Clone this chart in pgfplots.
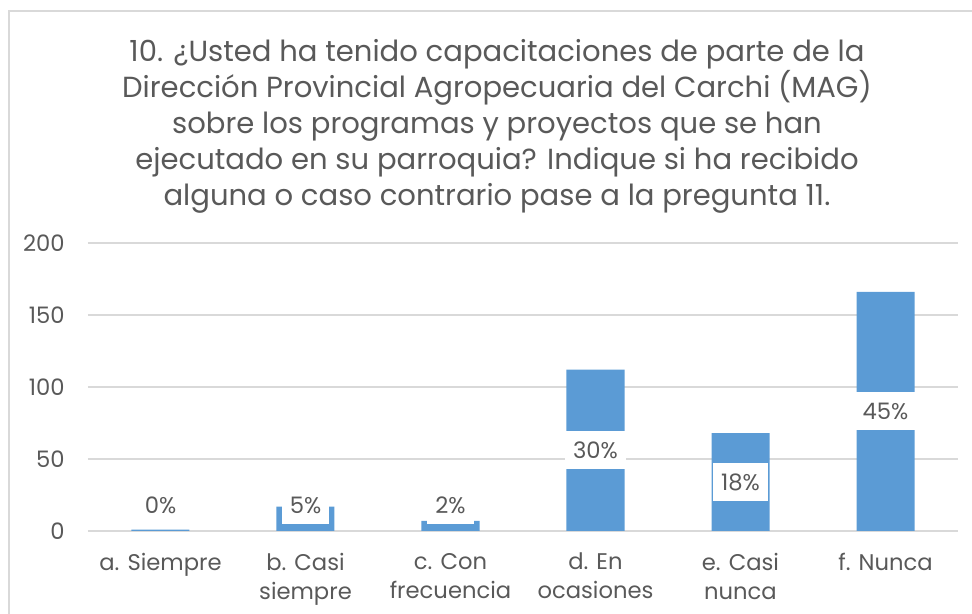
\documentclass[border=0pt]{standalone}
\usepackage{pgfplots}
\pgfplotsset{compat=1.18}
\usepackage{fontspec}
\setmainfont{Poppins}
\definecolor{barblue}{HTML}{5B9BD5}
\definecolor{txtgray}{HTML}{595959}
\definecolor{gridgray}{HTML}{D9D9D9}
\begin{document}
\begin{tikzpicture}
\useasboundingbox (-66pt,-62.25pt) rectangle (663pt,398.25pt);
\draw[gridgray, line width=1pt] (-59.25pt,-62.25pt) -- (-59.25pt,390pt) -- (663pt,390pt);
\begin{axis}[
  at={(0,0)}, anchor=south west,
  width=652.5pt, height=216pt, scale only axis,
  xmin=-0.5, xmax=5.5, ymin=0, ymax=200,
  xtick={0,...,5},
  xticklabels={a. Siempre, b. Casi\\siempre, c. Con\\frecuencia,
               d. En\\ocasiones, e. Casi\\nunca, f. Nunca},
  ytick={0,50,...,200},
  ymajorgrids, grid style={gridgray, line width=0.9pt},
  axis line style={draw=none},
  major tick length=0pt,
  tick label style={font=\fontsize{17}{21.75}\selectfont, text=txtgray},
  xticklabel style={align=center, anchor=north, yshift=-13pt},
  yticklabel style={anchor=east, xshift=-14pt},
  /pgf/number format/assume math mode=true,
  clip=false,
]
  \addplot[ybar, bar width=43.5pt, fill=barblue, draw=none]
    coordinates {(0,1) (1,17) (2,7) (3,112) (4,68) (5,166)};
  % percentage labels, centred in the bar (lifted for the short bars)
  \addplot[only marks, mark=none, nodes near coords, point meta=explicit symbolic,
    nodes near coords style={anchor=center, fill=white, text=txtgray,
      font=\fontsize{17}{20}\selectfont, inner xsep=6pt, minimum height=28.5pt}]
    coordinates {(0,18)[0\%] (1,18)[5\%] (2,18)[2\%] (3,56)[30\%] (4,34)[18\%] (5,83)[45\%]};
\end{axis}
\node[align=center, text=txtgray, font=\fontsize{21.8}{27}\selectfont] at (306.75pt,303.5pt)
  {10. ¿Usted ha tenido capacitaciones de parte de la\\
   Dirección Provincial Agropecuaria del Carchi (MAG)\\
   sobre los programas y proyectos que se han\\
   ejecutado en su parroquia? Indique si ha recibido\\
   alguna o caso contrario pase a la pregunta 11.};
\end{tikzpicture}
\end{document}
